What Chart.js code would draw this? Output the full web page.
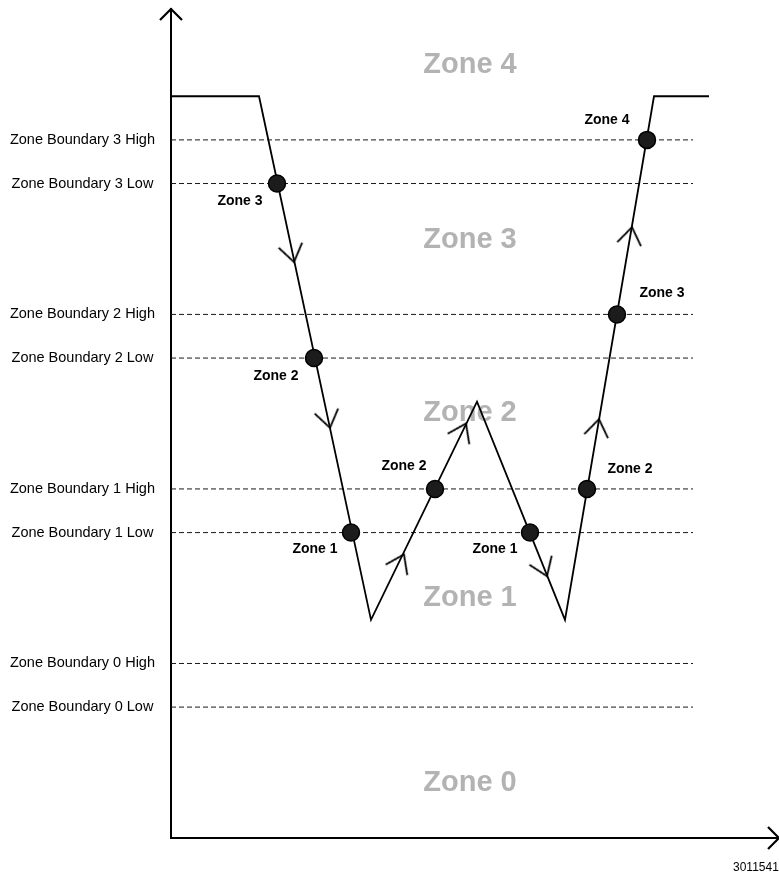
<!DOCTYPE html>
<html lang="en">
<head>
<meta charset="UTF-8">
<title>Zone boundaries</title>
<script src="https://cdn.jsdelivr.net/npm/chart.js"></script>
<style>
  html, body { margin: 0; padding: 0; background: #fff; }
  #wrap { width: 779px; height: 877px; }
</style>
</head>
<body>
<div id="wrap"><canvas id="zoneChart"></canvas></div>
<script>
// boundary levels and their names
const boundaryValues = [3, 4, 7, 8, 11, 12, 15, 16];
const boundaryLabels = [
  'Zone Boundary 0 Low', 'Zone Boundary 0 High',
  'Zone Boundary 1 Low', 'Zone Boundary 1 High',
  'Zone Boundary 2 Low', 'Zone Boundary 2 High',
  'Zone Boundary 3 Low', 'Zone Boundary 3 High'
];
const boundaryEnd = 522;

// the signal path
const pathX = [0, 88, 200, 306, 394, 483, 538];
const pathY = [17, 17, 5, 10, 5, 17, 17];

// points where the path crosses a boundary
const crossX = [106, 143, 180, 264, 359, 416, 446, 476];
const crossY = [15, 11, 7, 8, 7, 8, 12, 16];
const crossZone = ['Zone 3', 'Zone 2', 'Zone 1', 'Zone 2', 'Zone 1', 'Zone 2', 'Zone 3', 'Zone 4'];

// direction arrows on the path (arrowSeg = segment of the path they sit on)
const arrowX = [123, 159, 233, 295, 376, 428, 461];
const arrowY = [13.2, 9.4, 6.5, 9.5, 6.0, 9.6, 14.0];
const arrowSeg = [1, 1, 2, 2, 3, 4, 4];

// big grey zone names
const zoneNames = ['Zone 0', 'Zone 1', 'Zone 2', 'Zone 3', 'Zone 4'];
const zoneNameY = [1.26, 5.5, 9.74, 13.7, 17.72];
const zoneNameX = 299;

const figureId = '30115410';

const FONT = "'Liberation Sans', Arial, sans-serif";

// label offsets (px) from each crossing dot
const crossLabelOffset = [[-37, 18], [-38, 18], [-36, 17], [-31, -23], [-35, 17], [43, -20], [45, -21], [-40, -20]];

// open "V" arrow head, tip at the center, pointing right
function makeArrowHead() {
  const L = 21, ang = 35 * Math.PI / 180;
  const c = document.createElement('canvas');
  c.width = 46; c.height = 46;
  const g = c.getContext('2d');
  g.strokeStyle = '#000';
  g.lineWidth = 1.8;
  g.beginPath();
  g.moveTo(23 - L * Math.cos(ang), 23 - L * Math.sin(ang));
  g.lineTo(23, 23);
  g.lineTo(23 - L * Math.cos(ang), 23 + L * Math.sin(ang));
  g.stroke();
  return c;
}
const arrowHead = makeArrowHead();

const boundarySets = boundaryValues.map(v => ({
  type: 'line',
  data: [{x: 0, y: v}, {x: boundaryEnd, y: v}],
  borderColor: '#1a1a1a',
  borderWidth: 1,
  borderDash: [5, 3],
  pointRadius: 0,
  order: 10
}));

const textPlugin = {
  id: 'zoneText',
  beforeDatasetsDraw(chart) {
    const {ctx, scales: {x, y}} = chart;
    ctx.save();
    ctx.font = 'bold 29px ' + FONT;
    ctx.fillStyle = '#b3b3b3';
    ctx.textAlign = 'center';
    ctx.textBaseline = 'middle';
    zoneNames.forEach((t, i) => {
      ctx.fillText(t, x.getPixelForValue(zoneNameX), y.getPixelForValue(zoneNameY[i]));
    });
    ctx.restore();
  },
  afterDatasetsDraw(chart) {
    const {ctx, scales: {x, y}} = chart;
    ctx.save();
    ctx.font = 'bold 14px ' + FONT;
    ctx.fillStyle = '#000';
    ctx.textAlign = 'center';
    ctx.textBaseline = 'middle';
    crossZone.forEach((t, i) => {
      const px = x.getPixelForValue(crossX[i]) + crossLabelOffset[i][0];
      const py = y.getPixelForValue(crossY[i]) + crossLabelOffset[i][1];
      ctx.fillText(t, px, py);
    });
    ctx.restore();
  },
  afterDraw(chart) {
    const {ctx, chartArea: a} = chart;
    ctx.save();
    ctx.strokeStyle = '#000';
    ctx.lineWidth = 2.2;
    ctx.beginPath();
    ctx.moveTo(a.left - 11, a.top + 11);
    ctx.lineTo(a.left, a.top);
    ctx.lineTo(a.left + 11, a.top + 11);
    ctx.moveTo(a.right - 11, a.bottom - 11);
    ctx.lineTo(a.right, a.bottom);
    ctx.lineTo(a.right - 11, a.bottom + 11);
    ctx.stroke();
    // figure number, cut off by the right edge as in the source
    ctx.font = '12px ' + FONT;
    ctx.fillStyle = '#000';
    ctx.textBaseline = 'middle';
    ctx.fillText(figureId, a.right - 46, a.bottom + 30);
    ctx.restore();
  }
};

new Chart(document.getElementById('zoneChart'), {
  type: 'scatter',
  data: {
    datasets: [
      {
        data: crossX.map((v, i) => ({x: v, y: crossY[i]})),
        pointRadius: 8.5,
        pointBackgroundColor: '#1c1c1c',
        pointBorderColor: '#000',
        pointBorderWidth: 1.5,
        order: 1
      },
      {
        data: arrowX.map((v, i) => ({x: v, y: arrowY[i]})),
        pointStyle: arrowHead,
        pointRadius: 3,
        rotation: ctx => {
          const s = arrowSeg[ctx.dataIndex];
          const sx = ctx.chart.scales.x, sy = ctx.chart.scales.y;
          const dx = sx.getPixelForValue(pathX[s + 1]) - sx.getPixelForValue(pathX[s]);
          const dy = sy.getPixelForValue(pathY[s + 1]) - sy.getPixelForValue(pathY[s]);
          return Math.atan2(dy, dx) * 180 / Math.PI;
        },
        order: 2
      },
      {
        type: 'line',
        data: pathX.map((v, i) => ({x: v, y: pathY[i]})),
        borderColor: '#000',
        borderWidth: 1.8,
        pointRadius: 0,
        tension: 0,
        order: 3
      },
      ...boundarySets
    ]
  },
  options: {
    responsive: true,
    maintainAspectRatio: false,
    animation: false,
    events: [],
    layout: { autoPadding: false, padding: { top: 9, left: 0, right: 0, bottom: 0 } },
    plugins: { legend: { display: false }, tooltip: { enabled: false } },
    scales: {
      x: {
        type: 'linear',
        min: 0,
        max: 608,
        ticks: { display: false },
        grid: { display: false, drawTicks: false },
        border: { display: true, color: '#000', width: 2 },
        afterFit: axis => { axis.height = 39; axis.paddingLeft = 0; axis.paddingRight = 0; }
      },
      y: {
        min: 0,
        max: 19,
        afterBuildTicks: axis => { axis.ticks = boundaryValues.map(v => ({value: v})); },
        afterFit: axis => { axis.width = 171; axis.paddingTop = 0; axis.paddingBottom = 0; },
        ticks: {
          autoSkip: false,
          callback: (v, i) => boundaryLabels[i],
          color: '#000',
          font: { family: FONT, size: 14.5 },
          crossAlign: 'center',
          padding: 16
        },
        grid: { display: false, drawTicks: false },
        border: { display: true, color: '#000', width: 2 }
      }
    }
  },
  plugins: [textPlugin]
});
</script>
</body>
</html>
